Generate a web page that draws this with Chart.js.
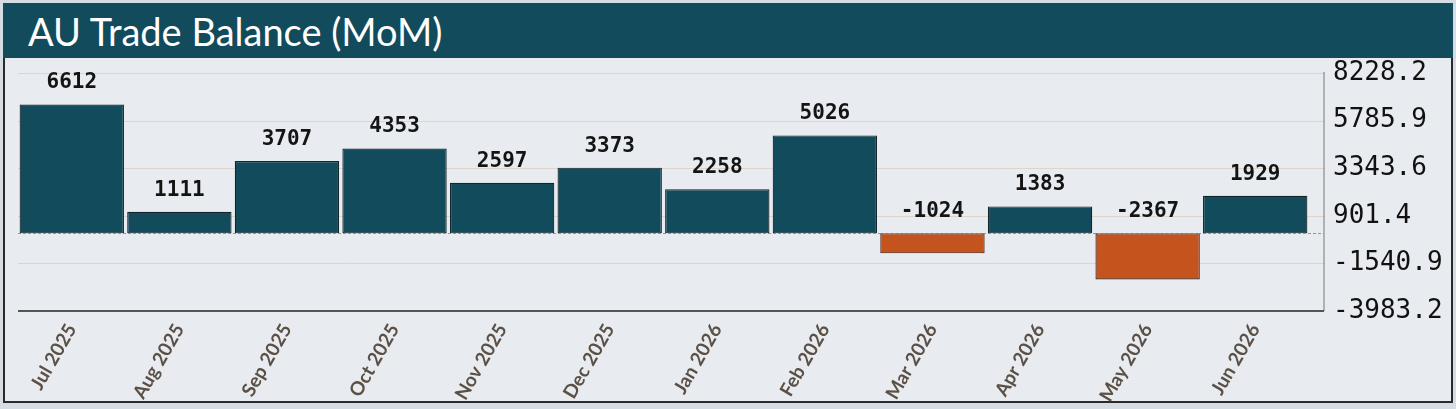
<!DOCTYPE html>
<html>
<head>
<meta charset="utf-8">
<script src="https://cdn.jsdelivr.net/npm/chart.js@4"></script>
<style>
  html, body { margin: 0; padding: 0; width: 1456px; height: 409px; overflow: hidden; background: #d6dce4; }
  #card { position: absolute; left: 3px; top: 3px; width: 1446px; height: 398px; background: #e8ebf0; border: 2px solid #2a2a2a; border-top: none; }
  #banner { position: absolute; left: 3px; top: 3px; width: 1450px; height: 55px; background: #124b5b; }
  #title { position: absolute; left: 25px; top: 5px; color: #fff; font-family: Lato, sans-serif; font-size: 38px; }
  #wrap { position: absolute; left: 0; top: 0; width: 1456px; height: 409px; }
</style>
</head>
<body>
<div id="card"></div>
<div id="banner"><div id="title">AU Trade Balance (MoM)</div></div>
<div id="wrap"><canvas id="chart"></canvas></div>
<script>
// Date
const months = ['Jul 2025', 'Aug 2025', 'Sep 2025', 'Oct 2025', 'Nov 2025', 'Dec 2025',
                'Jan 2026', 'Feb 2026', 'Mar 2026', 'Apr 2026', 'May 2026', 'Jun 2026'];
const balance = [6612, 1111, 3707, 4353, 2597, 3373, 2258, 5026, -1024, 1383, -2367, 1929];
const yTicks = [8228.2, 5785.9, 3343.6, 901.4, -1540.9, -3983.2];

const POS = '#124b5b';
const NEG = '#c4531d';
const FRAME_RIGHT = 1324; // chenarul din dreapta e putin dupa ultima categorie

// Grila, chenar si linia de zero desenate manual
const framePlugin = {
  id: 'frame',
  beforeDatasetsDraw(chart) {
    const { ctx, chartArea, scales } = chart;
    const y = scales.y;
    ctx.save();
    ctx.strokeStyle = '#ddd4ca';
    ctx.lineWidth = 1;
    yTicks.forEach(v => {
      const py = Math.round(y.getPixelForValue(v)) + 0.5;
      ctx.beginPath();
      ctx.moveTo(chartArea.left, py);
      ctx.lineTo(FRAME_RIGHT, py);
      ctx.stroke();
    });
    // linia din dreapta
    ctx.strokeStyle = '#8a8a8a';
    ctx.lineWidth = 1.2;
    ctx.beginPath();
    ctx.moveTo(FRAME_RIGHT, chartArea.top - 1);
    ctx.lineTo(FRAME_RIGHT, chartArea.bottom);
    ctx.stroke();
    // axa de jos
    ctx.strokeStyle = '#555';
    ctx.lineWidth = 2;
    ctx.beginPath();
    ctx.moveTo(chartArea.left, chartArea.bottom);
    ctx.lineTo(FRAME_RIGHT, chartArea.bottom);
    ctx.stroke();
    ctx.restore();
  },
  afterDatasetsDraw(chart) {
    const { ctx, chartArea, scales } = chart;
    const y0 = Math.round(scales.y.getPixelForValue(0)) + 0.5;
    ctx.save();
    ctx.strokeStyle = '#e07a52';
    ctx.lineWidth = 1;
    ctx.setLineDash([3, 2]);
    ctx.beginPath();
    ctx.moveTo(chartArea.left, y0);
    ctx.lineTo(FRAME_RIGHT, y0);
    ctx.stroke();
    ctx.setLineDash([]);

    // etichetele cu valori deasupra barelor
    ctx.font = 'bold 21px "DejaVu Sans Mono", monospace';
    ctx.textAlign = 'center';
    ctx.textBaseline = 'bottom';
    ctx.fillStyle = '#141414';
    const meta = chart.getDatasetMeta(0);
    meta.data.forEach((bar, i) => {
      const v = balance[i];
      const top = v >= 0 ? bar.y : scales.y.getPixelForValue(0);
      ctx.fillText(String(v), bar.x, top - 11);
    });
    ctx.restore();
  }
};

new Chart(document.getElementById('chart'), {
  type: 'bar',
  data: {
    labels: months,
    datasets: [{
      data: balance,
      backgroundColor: balance.map(v => v >= 0 ? POS : NEG),
      borderColor: balance.map(v => v >= 0 ? '#15262a' : '#3e1c0c'),
      borderWidth: 1.2,
      borderSkipped: false,
      barPercentage: 0.97,
      categoryPercentage: 1
    }]
  },
  options: {
    responsive: true,
    maintainAspectRatio: false,
    animation: false,
    layout: { padding: { left: 18, top: 73, right: 0, bottom: 0 } },
    plugins: { legend: { display: false }, tooltip: { enabled: false } },
    scales: {
      x: {
        grid: { display: false, drawTicks: false },
        border: { display: false },
        ticks: {
          minRotation: 60,
          maxRotation: 60,
          padding: 9,
          color: '#5b5045',
          font: { family: 'Lato', size: 19, weight: 'bold' }
        },
        afterFit(scale) { scale.height = 98; }
      },
      y: {
        position: 'right',
        min: -3983.2,
        max: 8228.2,
        grid: { display: false, drawTicks: false },
        border: { display: false },
        afterBuildTicks(scale) { scale.ticks = yTicks.map(v => ({ value: v })); },
        afterFit(scale) { scale.width = 147; },
        ticks: {
          padding: 24,
          color: '#111',
          font: { family: 'DejaVu Sans Mono', size: 26 },
          callback: v => Number(v).toFixed(1)
        }
      }
    }
  },
  plugins: [framePlugin]
});
</script>
</body>
</html>
